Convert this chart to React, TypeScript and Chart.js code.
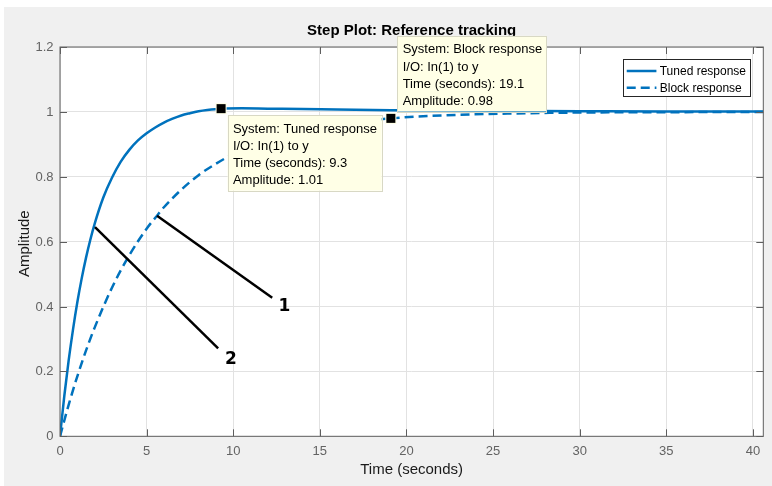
import React, { useEffect, useRef } from "react";
import { Chart, registerables } from "chart.js";

Chart.register(...registerables);

const W = 772;
const H = 486;

// ---- data ----
const tunedTime = [0, 0.25, 0.5, 0.75, 1, 1.25, 1.5, 1.75, 2, 2.5, 3, 3.5, 4, 4.5, 5, 5.5, 6, 6.5, 7, 7.5, 8, 8.5, 9.3, 10.5, 12, 14, 16, 19.1, 22, 26, 30, 35, 40.6];
const tunedAmp = [0, 0.125, 0.234, 0.329, 0.413, 0.486, 0.55, 0.606, 0.655, 0.736, 0.797, 0.846, 0.883, 0.912, 0.934, 0.952, 0.967, 0.979, 0.989, 0.996, 1.002, 1.006, 1.01, 1.011, 1.01, 1.009, 1.007, 1.005, 1.004, 1.003, 1.002, 1.001, 1.001];
const blockTime = [0, 0.5, 1, 1.5, 2, 3, 4, 5, 5.6, 6, 7, 8, 9, 10, 12, 14, 16, 19.1, 22, 26, 30, 35, 40.6];
const blockAmp = [0, 0.097, 0.185, 0.264, 0.335, 0.458, 0.558, 0.64, 0.68, 0.706, 0.76, 0.805, 0.84, 0.87, 0.914, 0.943, 0.962, 0.98, 0.989, 0.995, 0.998, 0.999, 1.0];

const seriesNames = ["Tuned response", "Block response"];
const xTickValues = [0, 5, 10, 15, 20, 25, 30, 35, 40];
const xTickLabels = ["0", "5", "10", "15", "20", "25", "30", "35", "40"];
const yTickValues = [0, 0.2, 0.4, 0.6, 0.8, 1, 1.2];
const yTickLabels = ["0", "0.2", "0.4", "0.6", "0.8", "1", "1.2"];
const xMin = 0;
const xMax = 40.6;
const yMin = 0;
const yMax = 1.2;

const titleText = "Step Plot: Reference tracking";
const xTitle = "Time (seconds)";
const yTitle = "Amplitude";

// data tips
const tipTimes = [9.3, 19.1];
const tipAmps = [1.01, 0.98];
const tipTimeLabels = ["9.3", "19.1"];
const tipAmpLabels = ["1.01", "0.98"];
const tipSystems = ["Tuned response", "Block response"];
const tipBelow = [true, false];

// annotation lines with labels
const annoLabels = ["1", "2"];
const annoFromT = [5.6, 2.02];
const annoFromA = [0.68, 0.645];
const annoToT = [12.25, 9.13];
const annoToA = [0.427, 0.271];
const annoLabelT = [12.95, 9.87];
const annoLabelA = [0.4, 0.235];

const FONT = '"Liberation Sans", Arial, Helvetica, sans-serif';
const BLUE = "#0072bd";
const LINE_W = 2.5;
const DASH = [9, 5];

const bgPlugin = {
  id: "bgPlugin",
  beforeDraw(chart: any) {
    const c = chart.ctx;
    const a = chart.chartArea;
    c.save();
    c.fillStyle = "#ffffff";
    c.fillRect(0, 0, W, H);
    c.fillStyle = "#f0f0f0";
    c.fillRect(4, 7, W - 4, H - 7);
    c.fillStyle = "#ffffff";
    c.fillRect(a.left, a.top, a.right - a.left, a.bottom - a.top);
    c.restore();
  },
};

const overlayPlugin = {
  id: "overlayPlugin",
  afterDraw(chart: any) {
    const c = chart.ctx;
    const a = chart.chartArea;
    const xs = chart.scales.x;
    const ys = chart.scales.y;
    c.save();

    // axes box
    c.strokeStyle = "#5e5e5e";
    c.lineWidth = 1;
    c.strokeRect(a.left, a.top, a.right - a.left, a.bottom - a.top);

    // ticks (inward)
    const TL = 7;
    c.beginPath();
    xTickValues.forEach((v) => {
      const px = Math.round(xs.getPixelForValue(v)) + 0.5;
      c.moveTo(px, a.bottom);
      c.lineTo(px, a.bottom - TL);
      c.moveTo(px, a.top);
      c.lineTo(px, a.top + TL);
    });
    yTickValues.forEach((v) => {
      const py = Math.round(ys.getPixelForValue(v)) + 0.5;
      c.moveTo(a.left, py);
      c.lineTo(a.left + TL, py);
      c.moveTo(a.right, py);
      c.lineTo(a.right - TL, py);
    });
    c.stroke();

    // tick labels
    c.fillStyle = "#636363";
    c.font = `13px ${FONT}`;
    c.textAlign = "center";
    c.textBaseline = "middle";
    xTickValues.forEach((v, i) => {
      c.fillText(xTickLabels[i], xs.getPixelForValue(v), a.bottom + 15.5);
    });
    c.textAlign = "right";
    yTickValues.forEach((v, i) => {
      c.fillText(yTickLabels[i], a.left - 6.5, ys.getPixelForValue(v) + 0.5);
    });

    // axis titles
    c.fillStyle = "#1a1a1a";
    c.font = `15px ${FONT}`;
    c.textAlign = "center";
    c.fillText(xTitle, (a.left + a.right) / 2, 470);
    c.save();
    c.translate(25, (a.top + a.bottom) / 2 + 2);
    c.rotate(-Math.PI / 2);
    c.fillText(yTitle, 0, 0);
    c.restore();

    // title
    c.fillStyle = "#000000";
    c.font = `bold 15px ${FONT}`;
    c.fillText(titleText, (a.left + a.right) / 2, 31);

    // annotation lines
    c.strokeStyle = "#000000";
    c.lineWidth = 2.5;
    c.lineCap = "butt";
    annoLabels.forEach((lab, i) => {
      c.beginPath();
      c.moveTo(xs.getPixelForValue(annoFromT[i]), ys.getPixelForValue(annoFromA[i]));
      c.lineTo(xs.getPixelForValue(annoToT[i]), ys.getPixelForValue(annoToA[i]));
      c.stroke();
      c.fillStyle = "#000000";
      c.font = `bold 17px "DejaVu Sans", ${FONT}`;
      c.textAlign = "center";
      c.textBaseline = "middle";
      c.fillText(lab, xs.getPixelForValue(annoLabelT[i]), ys.getPixelForValue(annoLabelA[i]));
    });

    // legend
    c.font = `12px ${FONT}`;
    const lw = Math.max(...seriesNames.map((s) => c.measureText(s).width));
    const legW = 36.7 + lw + 4;
    const legH = 36.7;
    const legRight = a.right - 13.3;
    const legLeft = legRight - legW;
    const legTop = a.top + 12.3;
    c.fillStyle = "#ffffff";
    c.fillRect(legLeft, legTop, legW, legH);
    c.strokeStyle = "#262626";
    c.lineWidth = 1;
    c.strokeRect(Math.round(legLeft) + 0.5, Math.round(legTop) + 0.5, Math.round(legW), Math.round(legH));
    seriesNames.forEach((name, i) => {
      const yy = legTop + 11.7 + i * 16.7;
      c.strokeStyle = BLUE;
      c.lineWidth = LINE_W;
      c.setLineDash(i === 1 ? DASH : []);
      c.beginPath();
      c.moveTo(legLeft + 3.7, yy);
      c.lineTo(legLeft + 33.4, yy);
      c.stroke();
      c.setLineDash([]);
      c.fillStyle = "#000000";
      c.textAlign = "left";
      c.textBaseline = "middle";
      c.fillText(name, legLeft + 36.7, yy + 0.5);
    });

    // data tips
    tipTimes.forEach((t, i) => {
      const mx = xs.getPixelForValue(t);
      const my = ys.getPixelForValue(tipAmps[i]);
      const lines = [
        `System: ${tipSystems[i]}`,
        "I/O: In(1) to y",
        `Time (seconds): ${tipTimeLabels[i]}`,
        `Amplitude: ${tipAmpLabels[i]}`,
      ];
      c.font = `13px ${FONT}`;
      const tw = Math.max(...lines.map((s) => c.measureText(s).width));
      const bw = tw + 10;
      const bh = 75.5;
      const bx = mx + 6.5;
      const by = tipBelow[i] ? my + 6.5 : my - 7 - bh;
      c.fillStyle = "#ffffe6";
      c.fillRect(bx, by, bw, bh);
      c.strokeStyle = "#d8d8c4";
      c.lineWidth = 1;
      c.strokeRect(Math.round(bx) + 0.5, Math.round(by) + 0.5, Math.round(bw), Math.round(bh));
      c.fillStyle = "#000000";
      c.textAlign = "left";
      c.textBaseline = "middle";
      lines.forEach((s, k) => {
        c.fillText(s, bx + 5.3, by + 13.8 + k * 17.3);
      });
      // marker
      c.fillStyle = "#ffffe6";
      c.fillRect(mx - 5.5, my - 5.5, 11, 11);
      c.fillStyle = "#000000";
      c.fillRect(mx - 4.5, my - 4.5, 9, 9);
    });

    c.restore();
  },
};

export default function App() {
  const ref = useRef<HTMLCanvasElement | null>(null);

  useEffect(() => {
    document.body.style.margin = "0";
    const canvas = ref.current;
    if (!canvas) return;
    const chart = new Chart(canvas, {
      type: "line",
      data: {
        datasets: [
          {
            label: seriesNames[0],
            data: tunedTime.map((t, i) => ({ x: t, y: tunedAmp[i] })),
            borderColor: BLUE,
            borderWidth: LINE_W,
            pointRadius: 0,
            cubicInterpolationMode: "monotone",
            fill: false,
          },
          {
            label: seriesNames[1],
            data: blockTime.map((t, i) => ({ x: t, y: blockAmp[i] })),
            borderColor: BLUE,
            borderWidth: LINE_W,
            borderDash: DASH,
            pointRadius: 0,
            cubicInterpolationMode: "monotone",
            fill: false,
          },
        ],
      },
      options: {
        responsive: false,
        animation: false,
        devicePixelRatio: 1,
        layout: { padding: { top: 47, right: 8.7, bottom: 0, left: 0 } },
        plugins: {
          legend: { display: false },
          title: { display: false },
          tooltip: { enabled: false },
        },
        events: [],
        scales: {
          x: {
            type: "linear",
            min: xMin,
            max: xMax,
            afterBuildTicks: (s: any) => {
              s.ticks = xTickValues.map((v) => ({ value: v }));
            },
            afterFit: (s: any) => {
              s.height = 49.7;
            },
            ticks: { display: false },
            grid: { color: "#e2e2e2", drawTicks: false, lineWidth: 1 },
            border: { display: false },
          },
          y: {
            type: "linear",
            min: yMin,
            max: yMax,
            afterBuildTicks: (s: any) => {
              s.ticks = yTickValues.map((v) => ({ value: v }));
            },
            afterFit: (s: any) => {
              s.width = 60;
            },
            ticks: { display: false },
            grid: { color: "#e2e2e2", drawTicks: false, lineWidth: 1 },
            border: { display: false },
          },
        },
      } as any,
      plugins: [bgPlugin, overlayPlugin],
    });
    return () => chart.destroy();
  }, []);

  return (
    <div style={{ position: "absolute", left: 0, top: 0, width: W, height: H }}>
      <canvas ref={ref} width={W} height={H} style={{ display: "block", width: W, height: H }} />
    </div>
  );
}
